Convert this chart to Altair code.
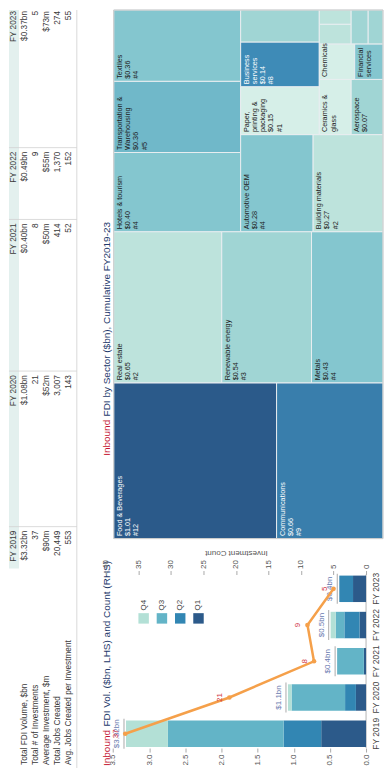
import altair as alt
import pandas as pd

# ---------------- data ----------------
YEARS = ["FY 2019", "FY 2020", "FY 2021", "FY 2022", "FY 2023"]
METRICS = ["Total FDI Volume, $bn", "Total # of Investments", "Average Investment, $m",
           "Total Jobs Created", "Avg. Jobs Created per Investment"]
FDI_VOLUME_BN = [3.32, 1.08, 0.40, 0.49, 0.37]
INVESTMENT_COUNT = [37, 21, 8, 9, 5]
AVG_INVESTMENT_M = [90, 52, 50, 55, 73]
JOBS_CREATED = [20449, 3007, 414, 1370, 274]
AVG_JOBS_PER_INV = [553, 143, 52, 152, 55]

QUARTERS = ["Q1", "Q2", "Q3", "Q4"]
Q1_BN = [0.62, 0.14, 0.03, 0.09, 0.18]
Q2_BN = [0.52, 0.15, 0.00, 0.21, 0.19]
Q3_BN = [1.60, 0.74, 0.37, 0.12, 0.00]
Q4_BN = [0.58, 0.05, 0.00, 0.07, 0.00]
BAR_LABELS = ["$3.32bn", "$1.1bn", "$0.4bn", "$0.5bn", "$0.4bn"]

SECTORS = ["Food & Beverages", "Communications", "Real estate", "Renewable energy", "Metals",
           "Hotels & tourism", "Transportation & Warehousing", "Textiles", "Automotive OEM",
           "Building materials", "Paper, printing & packaging", "Business services", "Other sector A",
           "Ceramics & glass", "Aerospace", "Chemicals", "Financial services",
           "Other sector B", "Other sector C", "Other sector D", "Other sector E"]
SECTOR_LABEL_NAME = ["Food & Beverages", "Communications", "Real estate", "Renewable energy", "Metals",
                     "Hotels & tourism", "Transportation &\nWarehousing", "Textiles", "Automotive OEM",
                     "Building materials", "Paper,\nprinting &\npackaging", "Business\nservices", "",
                     "Ceramics &\nglass", "Aerospace", "Chemicals", "Financial\nservices", "", "", "", ""]
SECTOR_BN = [1.01, 0.66, 0.65, 0.54, 0.43, 0.40, 0.36, 0.36, 0.28, 0.27, 0.15, 0.14, 0.10,
             0.07, 0.07, 0.05, 0.04, 0.025, 0.018, 0.023, 0.02]
SECTOR_COUNT = [12, 9, 2, 3, 4, 4, 5, 4, 4, 2, 1, 8, 3, 1, 3, 1, 4, 2, 2, 3, 3]
LABEL_LINES_SHOWN = [3, 3, 3, 3, 3, 3, 4, 3, 3, 3, 5, 4, 0, 2, 2, 1, 2, 0, 0, 0, 0]
STRIP_SIZES = [2, 3, 3, 2, 3, 2, 2, 2, 2]

FONT = "Liberation Sans"
NAVY = "#23396b"
CRIMSON = "#c4122f"
Q_COLORS = ["#2c5a8a", "#3286b3", "#63b4c7", "#b3e0d6"]

# ---------------- table panel ----------------
TBL_W, TBL_H = 97, 760
ROWS = ["hdr"] + METRICS
# column index -1 = metric-name column, 0..4 = FY 2019..FY 2023
TY = alt.Scale(domain=[-1, 0, 1, 2, 3, 4], range=[757, 522, 366, 214, 142, 1], nice=False, zero=False)
TX = alt.Scale(type="point", domain=ROWS, range=[5, 60], padding=0)

fmt = [
    [f"${v:.2f}bn" for v in FDI_VOLUME_BN],
    [str(v) for v in INVESTMENT_COUNT],
    [f"${v}m" for v in AVG_INVESTMENT_M],
    [f"{v:,}" for v in JOBS_CREATED],
    [str(v) for v in AVG_JOBS_PER_INV],
]
cells = []
for j, y in enumerate(YEARS):
    cells.append({"row": "hdr", "ci": j, "text": y})
    for i, m in enumerate(METRICS):
        cells.append({"row": m, "ci": j, "text": fmt[i][j]})
cells_df = pd.DataFrame(cells)
labels_df = pd.DataFrame({"row": METRICS, "ci": [-1] * 5, "text": METRICS})

hdr_band = alt.Chart(pd.DataFrame({"a": [0]})).mark_rect(color="#e3f0ee").encode(
    y=alt.value(0), y2=alt.value(560), x=alt.value(0), x2=alt.value(10))
seps = alt.Chart(pd.DataFrame({"ci": [0, 1, 2, 3]})).mark_rule(
    color="#d2d2d2", strokeWidth=0.8, yOffset=-4).encode(
    y=alt.Y("ci:Q", scale=TY, axis=None), x=alt.value(0), x2=alt.value(68))
bottom_line = alt.Chart(pd.DataFrame({"a": [0]})).mark_rule(color="#cfcfcf", strokeWidth=0.8).encode(
    x=alt.value(68))
cell_text = alt.Chart(cells_df).mark_text(angle=270, align="right", baseline="middle",
                                          fontSize=8.3, color="#3a3a3a", font=FONT).encode(
    x=alt.X("row:N", scale=TX, axis=None),
    y=alt.Y("ci:Q", scale=TY, axis=None),
    text="text:N")
label_text = alt.Chart(labels_df).mark_text(angle=270, align="left", baseline="middle",
                                            fontSize=8.3, color="#3a3a3a", font=FONT).encode(
    x=alt.X("row:N", scale=TX, axis=None),
    y=alt.Y("ci:Q", scale=TY, axis=None),
    text="text:N")


def two_tone_title(rest, y_start):
    first = alt.Chart(pd.DataFrame({"t": ["Inbound"]})).mark_text(
        angle=270, align="left", baseline="middle", fontSize=10, color=CRIMSON, font=FONT).encode(
        text="t:N", x=alt.value(98), y=alt.value(y_start))
    second = alt.Chart(pd.DataFrame({"t": [rest]})).mark_text(
        angle=270, align="left", baseline="middle", fontSize=10, color=NAVY, font=FONT).encode(
        text="t:N", x=alt.value(98), y=alt.value(y_start - 39.5))
    return [first, second]


table = alt.layer(hdr_band, seps, bottom_line, cell_text, label_text,
                  *two_tone_title("FDI by Sector ($bn), Cumulative FY2019-23", 447),
                  *two_tone_title("FDI Vol. ($bn, LHS) and Count (RHS)", 758)
                  ).properties(width=TBL_W, height=TBL_H)

# ---------------- treemap panel ----------------
TM_U, TM_V = 530.0, 270.0   # original-orientation width (u) and height (v)


def strip_layout(values, strips, W, H):
    k = W * H / float(sum(values))
    u0, v0, out, i = 0.0, 0.0, [], 0
    for n in strips:
        grp = values[i:i + n]
        area = sum(grp) * k
        w, h = W - u0, H - v0
        if h <= w:
            t = area / h
            pos = v0
            for val in grp:
                ext = val * k / t
                out.append((u0, u0 + t, pos, pos + ext))
                pos += ext
            u0 += t
        else:
            t = area / w
            pos = u0
            for val in grp:
                ext = val * k / t
                out.append((pos, pos + ext, v0, v0 + t))
                pos += ext
            v0 += t
        i += n
    return out


rects = strip_layout(SECTOR_BN, STRIP_SIZES, TM_U, TM_V)
tm_rows = []
for s, nm, bn, cnt, shown, (u0, u1, v0, v1) in zip(SECTORS, SECTOR_LABEL_NAME, SECTOR_BN, SECTOR_COUNT,
                                                 LABEL_LINES_SHOWN, rects):
    lines = (nm.split("\n") if nm else []) + [f"${bn:.2f}", f"#{cnt}"]
    tm_rows.append({"sector": s, "bn": bn, "count": cnt, "u0": u0, "u1": u1, "v0": v0, "v1": v1,
                    "label": "\n".join(lines[:shown])})
tm_df = pd.DataFrame(tm_rows)

XS = alt.Scale(domain=[0, TM_V], range=[8, 278], nice=False, zero=False)
YS = alt.Scale(domain=[0, TM_U], nice=False, zero=False)
tm_color = alt.Scale(domain=[1, 2, 4, 8, 12], range=["#d6efe8", "#bde3dc", "#84c6cf", "#3e8bb7", "#2b5a8a"])

tm_rect = alt.Chart(tm_df).mark_rect(stroke="#e8edf0", strokeWidth=1).encode(
    x=alt.X("v0:Q", scale=XS, axis=None), x2="v1:Q",
    y=alt.Y("u0:Q", scale=YS, axis=None), y2="u1:Q",
    color=alt.Color("count:Q", scale=tm_color, legend=None))
tm_text = alt.Chart(tm_df).mark_text(angle=270, align="left", baseline="top", dx=2.5, dy=2,
                                     fontSize=7.3, lineHeight=8.3, lineBreak="\n", font=FONT).encode(
    x=alt.X("v0:Q", scale=XS, axis=None),
    y=alt.Y("u0:Q", scale=YS, axis=None),
    text="label:N",
    color=alt.condition("datum.count >= 8", alt.value("white"), alt.value("#202020")))
frame_df = pd.DataFrame({"v0": [0.0], "v1": [TM_V], "u0": [0.0], "u1": [TM_U]})
tm_frame = alt.Chart(frame_df).mark_rect(fill=None, stroke="#c9c9c9", strokeWidth=1).encode(
    x=alt.X("v0:Q", scale=XS, axis=None), x2="v1:Q",
    y=alt.Y("u0:Q", scale=YS, axis=None), y2="u1:Q")
treemap = alt.layer(tm_rect, tm_text, tm_frame).properties(width=278, height=530)

# ---------------- bar + line panel ----------------
bar_rows = []
for j, y in enumerate(YEARS):
    for qi, (q, arr) in enumerate(zip(QUARTERS, [Q1_BN, Q2_BN, Q3_BN, Q4_BN])):
        bar_rows.append({"year": y, "quarter": q, "qorder": qi, "value": arr[j]})
bar_df = pd.DataFrame(bar_rows)
tot_df = pd.DataFrame({"year": YEARS, "total": FDI_VOLUME_BN, "lab": BAR_LABELS,
                       "count": INVESTMENT_COUNT})

Y_ENC = alt.Y("year:N", scale=alt.Scale(domain=YEARS[::-1], paddingInner=0.27, paddingOuter=0.03),
              axis=alt.Axis(orient="right", labelAngle=270, labelAlign="center", labelBaseline="top",
                            ticks=False, domain=False, title=None, labelPadding=5, labelFontSize=8.5,
                            labelColor="#444", labelFont=FONT))
LHS = alt.Scale(domain=[0, 3.6], reverse=True, nice=False, zero=True)
RHS = alt.Scale(domain=[0, 40], reverse=True, nice=False, zero=True)
QCOL = alt.Color("quarter:N", scale=alt.Scale(domain=QUARTERS, range=Q_COLORS), legend=None)

bars = alt.Chart(bar_df).mark_bar().encode(
    x=alt.X("value:Q", stack="zero", scale=LHS,
            axis=alt.Axis(orient="bottom", values=[0, 0.5, 1, 1.5, 2, 2.5, 3, 3.5], format=".1f",
                          labelAngle=270, labelAlign="right", labelBaseline="middle", labelFlush=False,
                          title=None, domain=False, grid=False, tickColor="#aaa", tickSize=4,
                          labelFontSize=8, labelColor="#555", labelFont=FONT, labelPadding=2)),
    y=Y_ENC, color=QCOL, order=alt.Order("qorder:Q"))
zero_rule = alt.Chart(pd.DataFrame({"z": [0.0]})).mark_rule(color="#b5b5b5", strokeWidth=1).encode(
    x=alt.X("z:Q", scale=LHS, axis=None))
end_tick = alt.Chart(tot_df).mark_tick(color="#9a9a9a", thickness=1.2, size=30, xOffset=-2).encode(
    x=alt.X("total:Q", scale=LHS, axis=None), y=Y_ENC)
bar_lab = alt.Chart(tot_df).mark_text(angle=270, align="center", baseline="bottom", dy=-5,
                                      fontSize=8, color="#6a7bb0", font=FONT).encode(
    x=alt.X("total:Q", scale=LHS, axis=None), y=Y_ENC, text="lab:N")
line = alt.Chart(tot_df).mark_line(color="#f5a04a", strokeWidth=2.5,
                                   point=alt.OverlayMarkDef(color="#f5a04a", size=22, filled=True)).encode(
    x=alt.X("count:Q", scale=RHS,
            axis=alt.Axis(orient="top", values=[0, 5, 10, 15, 20, 25, 30, 35, 40], labelAngle=270,
                          labelAlign="left", labelBaseline="middle", labelFlush=False,
                          title="Investment Count", titleAngle=180, titleBaseline="top", titleFontSize=8,
                          titleFontWeight="normal", titleColor="#555", titleFont=FONT, titlePadding=3,
                          domain=False, grid=False, tickColor="#aaa", tickSize=4,
                          labelFontSize=8, labelColor="#555", labelFont=FONT, labelPadding=2)),
    y=Y_ENC)
cnt_lab = alt.Chart(tot_df).mark_text(angle=270, align="center", baseline="bottom", dy=-5,
                                      fontSize=8, color="#d0343f", font=FONT).encode(
    x=alt.X("count:Q", scale=RHS, axis=None), y=Y_ENC, text="count:Q")
leg_df = pd.DataFrame({"quarter": ["Q4", "Q3", "Q2", "Q1"]})
LEGX = alt.X("quarter:N", scale=alt.Scale(type="point", domain=["Q4", "Q3", "Q2", "Q1"],
                                          range=[38, 93], padding=0), axis=None)
leg_sq = alt.Chart(leg_df).mark_square(size=110, opacity=1).encode(x=LEGX, y=alt.value(44), color=QCOL)
leg_tx = alt.Chart(leg_df).mark_text(angle=270, align="left", baseline="middle", dx=8,
                                     fontSize=8, color="#444", font=FONT).encode(
    x=LEGX, y=alt.value(44), text="quarter:N")

barchart = alt.layer(zero_rule, bars, end_tick, bar_lab, line, cnt_lab, leg_sq, leg_tx).resolve_scale(
    x="independent").properties(width=261, height=174)

right_col = alt.vconcat(treemap, barchart, spacing=36, bounds="flush").resolve_scale(
    color="independent", x="independent", y="independent")

chart = alt.hconcat(table, right_col, spacing=0, bounds="flush").resolve_scale(
    color="independent", x="independent", y="independent"
).properties(padding=0).configure(font=FONT).configure_view(stroke=None)

chart.save("out.html", embed_options={"renderer": "svg", "actions": False})
